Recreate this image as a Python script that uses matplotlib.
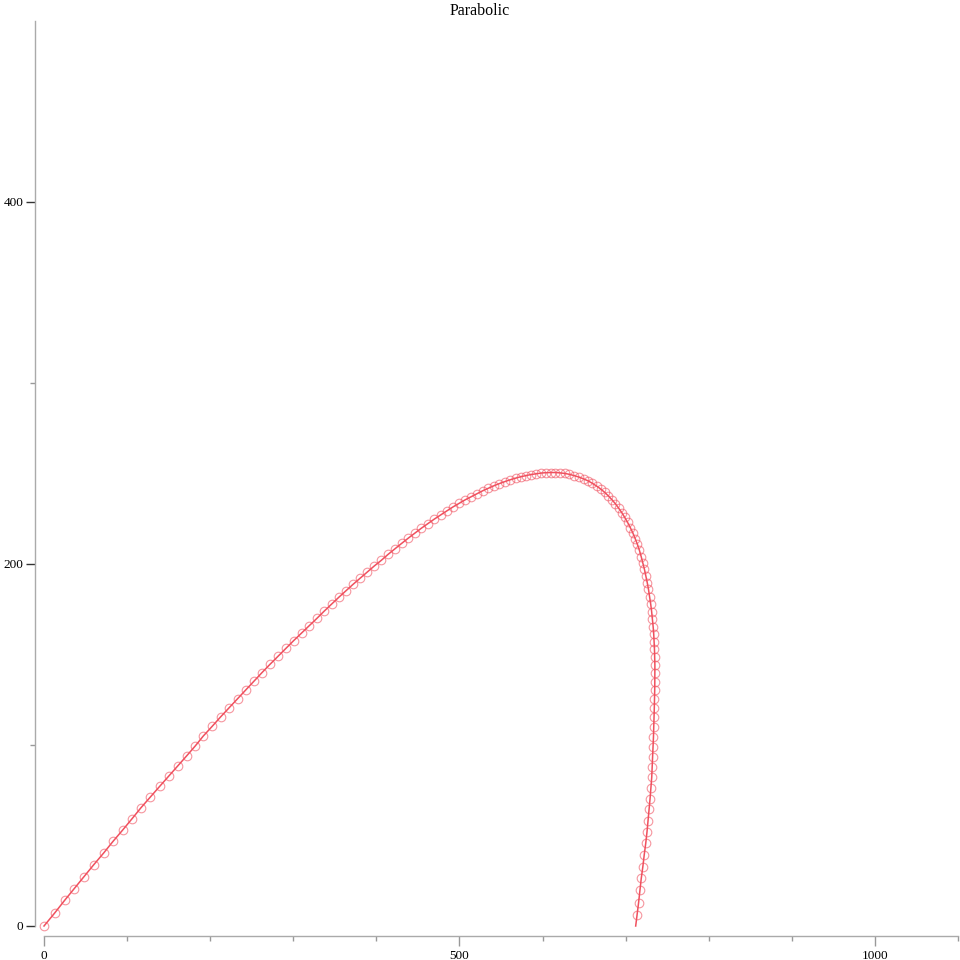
import matplotlib
matplotlib.use("Agg")
import matplotlib.pyplot as plt
from matplotlib.ticker import FixedLocator

# trajectory points (distance, height)
dist = [0.0, 12.9, 24.9, 36.5, 48.1, 59.8, 71.8, 83.0, 94.7, 105.9,
        116.7, 127.9, 139.2, 150.2, 161.0, 171.6, 182.0, 191.7, 202.5, 212.6,
        223.0, 233.1, 243.1, 252.7, 262.3, 272.0, 281.6, 291.2, 300.5, 310.1,
        319.3, 328.5, 337.3, 346.2, 355.0, 363.4, 371.8, 380.6, 389.1, 397.5,
        405.9, 414.1, 422.4, 430.5, 438.5, 446.5, 454.3, 462.1, 469.8, 477.4,
        484.8, 492.2, 499.6, 506.8, 513.9, 520.9, 527.9, 534.7, 541.5, 548.1,
        554.7, 561.2, 567.6, 573.9, 580.1, 586.2, 592.2, 598.2, 604.0, 609.7,
        615.4, 621.1, 626.7, 632.4, 638.0, 643.7, 649.3, 654.8, 660.1, 665.1,
        670.0, 674.6, 679.2, 683.5, 687.6, 691.5, 695.3, 698.9, 702.3, 705.6,
        708.7, 711.5, 714.2, 716.6, 718.7, 720.7, 722.6, 724.3, 726.0, 727.5,
        728.9, 730.2, 731.3, 732.2, 733.1, 733.8, 734.3, 734.7, 735.0, 735.2,
        735.2, 735.1, 735.0, 734.7, 734.5, 734.2, 733.9, 733.5, 733.0, 732.6,
        732.1, 731.4, 730.4, 729.4, 728.2, 727.0, 725.7, 724.2, 722.4, 720.7,
        718.8, 717.3, 715.6, 713.8, 712.1]
height = [0.0, 7.2, 14.2, 20.7, 27.2, 33.8, 40.3, 46.7, 53.0, 59.2,
          65.3, 71.2, 77.1, 82.8, 88.4, 93.9, 99.4, 104.9, 110.3, 115.5,
          120.6, 125.5, 130.4, 135.2, 139.9, 144.5, 148.9, 153.3, 157.6, 161.8,
          165.9, 169.9, 173.9, 177.8, 181.6, 185.1, 188.6, 192.1, 195.5, 198.8,
          201.9, 205.2, 208.3, 211.3, 214.2, 217.0, 219.7, 222.2, 224.7, 227.0,
          229.2, 231.4, 233.4, 235.3, 237.0, 238.7, 240.3, 241.7, 243.1, 244.3,
          245.4, 246.4, 247.3, 248.1, 248.7, 249.3, 249.7, 250.1, 250.3, 250.4,
          250.4, 250.2, 249.9, 249.4, 248.7, 247.9, 246.9, 245.8, 244.4, 242.9,
          241.3, 239.5, 237.5, 235.4, 233.2, 230.8, 228.3, 225.6, 222.9, 220.0,
          217.0, 213.9, 210.7, 207.4, 204.0, 200.5, 197.0, 193.3, 189.6, 185.9,
          181.8, 177.6, 173.6, 169.4, 165.3, 161.2, 157.0, 152.8, 148.4, 144.0,
          139.5, 134.9, 130.3, 125.5, 120.4, 115.2, 110.1, 104.5, 99.0, 93.5,
          88.0, 82.1, 76.2, 70.3, 64.4, 58.1, 51.9, 45.7, 39.4, 32.7,
          26.3, 19.9, 12.9, 6.2, 0.0]

title = "Parabolic"
x_major = [0, 500, 1000]
x_minor = [100, 200, 300, 400, 600, 700, 800, 900, 1100]
y_major = [0, 200, 400]
y_minor = [100, 300]

plt.rcParams['font.family'] = ['Liberation Serif', 'DejaVu Serif']
red = '#f0505e'

fig = plt.figure(figsize=(9.6, 9.6), dpi=100)
ax = fig.add_axes([44/960, 34/960, 914/960, 905.5/960])

ax.plot(dist, height, color=red, lw=1.1, clip_on=False, zorder=3)
ax.plot(dist[:-1], height[:-1], ls='none', marker='o', ms=6.2,
        mfc='none', mec=red, mew=0.8, alpha=0.6, clip_on=False, zorder=4)

ax.set_xlim(0, 1100)
ax.set_ylim(0, 500)

for s in ['top', 'right']:
    ax.spines[s].set_visible(False)
ax.spines['left'].set_position(('outward', 6.5))
ax.spines['bottom'].set_position(('outward', 7.2))
for s in ['left', 'bottom']:
    ax.spines[s].set_color('#aaaaaa')
    ax.spines[s].set_linewidth(1.0)

ax.xaxis.set_major_locator(FixedLocator(x_major))
ax.xaxis.set_minor_locator(FixedLocator(x_minor))
ax.yaxis.set_major_locator(FixedLocator(y_major))
ax.yaxis.set_minor_locator(FixedLocator(y_minor))

ax.tick_params(axis='x', which='major', length=7, width=1.0, color='#999999',
               labelsize=9.5, pad=3)
ax.tick_params(axis='x', which='minor', length=3.5, width=1.0, color='#999999')
ax.tick_params(axis='y', which='major', length=6.5, width=1.0, color='#333333',
               labelsize=9.5, pad=2)
ax.tick_params(axis='y', which='minor', length=3.5, width=1.0, color='#999999')

fig.text(0.5, 1 - 11/960, title, ha='center', va='center', fontsize=11.5)

fig.savefig('out.png', dpi=100)
